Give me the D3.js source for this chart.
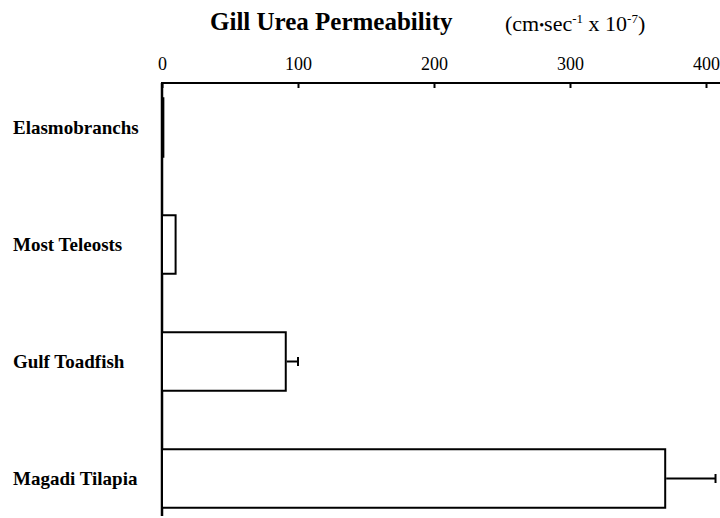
<!DOCTYPE html>
<html>
<head>
<meta charset="utf-8">
<script src="https://cdn.jsdelivr.net/npm/d3@7"></script>
<style>
    body { margin: 0; background: #fff; }
    svg { display: block; font-family: "Liberation Serif", "Times New Roman", serif; }
</style>
</head>
<body>
<svg id="chart" width="720" height="518"></svg>
<script>
// ====================================
// Données
// ====================================
const categories = ["Elasmobranchs", "Most Teleosts", "Gulf Toadfish", "Magadi Tilapia"];
const values = [1, 10, 91, 370];
const errors = [null, null, 9, 37];
const tickValues = [0, 100, 200, 300, 400];

const width = 720;
const height = 518;
const axisY = 83;

const svg = d3.select("#chart");

const x = d3.scaleLinear()
    .domain([0, 400])
    .range([162, 706]);

const y = d3.scaleBand()
    .domain(categories)
    .range([69, 537])
    .paddingInner(0.5)
    .paddingOuter(0.25);

const rows = categories.map((name, i) => ({ name, value: values[i], error: errors[i] }));

/**
 * Titre et unités
 */
function drawTitle() {
    svg.append("text")
        .attr("x", 210)
        .attr("y", 30)
        .style("font-size", "25px")
        .style("font-weight", "bold")
        .text("Gill Urea Permeability");

    const units = svg.append("text")
        .attr("x", 505)
        .attr("y", 31)
        .style("font-size", "22px");
    units.append("tspan").text("(cm");
    units.append("tspan").style("font-size", "14px").attr("dy", -1).text("\u2022");
    units.append("tspan").attr("dy", 1).text("sec");
    units.append("tspan").style("font-size", "13px").attr("dy", -8).text("-1");
    units.append("tspan").attr("dy", 8).text(" x 10");
    units.append("tspan").style("font-size", "13px").attr("dy", -8).text("-7");
    units.append("tspan").attr("dy", 8).text(")");
}

/**
 * Axe horizontal en haut (graduations vers le bas)
 */
function drawAxes() {
    const axis = svg.append("g")
        .attr("transform", `translate(0,${axisY})`)
        .call(d3.axisTop(x)
            .tickValues(tickValues)
            .tickSizeInner(-5)
            .tickSizeOuter(0)
            .tickPadding(13));

    axis.select(".domain").remove();
    axis.selectAll(".tick line")
        .attr("stroke", "#000")
        .attr("stroke-width", 2);
    axis.selectAll(".tick text")
        .attr("fill", "#000")
        .style("font-size", "18px")
        .style("font-family", "\"Liberation Serif\", serif");

    // ligne de l'axe jusqu'au bord droit
    svg.append("line")
        .attr("x1", x(0) - 1)
        .attr("x2", width)
        .attr("y1", axisY)
        .attr("y2", axisY)
        .attr("stroke", "#000")
        .attr("stroke-width", 2);

    // axe vertical
    svg.append("line")
        .attr("x1", x(0))
        .attr("x2", x(0))
        .attr("y1", axisY)
        .attr("y2", height - 2)
        .attr("stroke", "#000")
        .attr("stroke-width", 2.5);
}

/**
 * Barres, étiquettes et barres d'erreur
 */
function drawBars() {
    svg.append("g")
        .selectAll("rect")
        .data(rows)
        .join("rect")
        .attr("x", x(0))
        .attr("y", d => Math.max(y(d.name), axisY))
        .attr("width", d => x(d.value) - x(0))
        .attr("height", d => y(d.name) + y.bandwidth() - Math.max(y(d.name), axisY))
        .attr("fill", "#fff")
        .attr("stroke", "#000")
        .attr("stroke-width", 2);

    svg.append("g")
        .selectAll("text")
        .data(rows)
        .join("text")
        .attr("x", 13)
        .attr("y", d => y(d.name) + y.bandwidth() / 2 + 6)
        .style("font-size", "19px")
        .style("font-weight", "bold")
        .text(d => d.name);

    const err = svg.append("g")
        .selectAll("g")
        .data(rows.filter(d => d.error))
        .join("g")
        .attr("stroke", "#000")
        .attr("stroke-width", 2);

    err.append("line")
        .attr("x1", d => x(d.value) + 1)
        .attr("x2", d => x(d.value + d.error))
        .attr("y1", d => y(d.name) + y.bandwidth() / 2)
        .attr("y2", d => y(d.name) + y.bandwidth() / 2);

    err.append("line")
        .attr("x1", d => x(d.value + d.error))
        .attr("x2", d => x(d.value + d.error))
        .attr("y1", d => y(d.name) + y.bandwidth() / 2 - 4.5)
        .attr("y2", d => y(d.name) + y.bandwidth() / 2 + 4.5);
}

drawTitle();
drawAxes();
drawBars();
</script>
</body>
</html>
